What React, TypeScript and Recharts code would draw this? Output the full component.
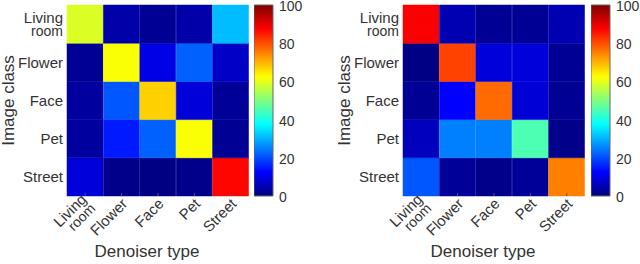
import React from 'react';
import { BarChart, Bar, Cell, XAxis, YAxis, ReferenceArea } from 'recharts';

const DENOISERS = ['Living room', 'Flower', 'Face', 'Pet', 'Street'];
const IMAGE_CLASSES = ['Living room', 'Flower', 'Face', 'Pet', 'Street'];
const COLORBAR_TICKS = [0, 20, 40, 60, 80, 100];

// rows = image class, columns = denoiser type (percent)
const leftMatrix = [
    [59, 4, 2, 4, 31],
    [2, 62, 10, 22, 7],
    [3, 21, 67, 9, 2.5],
    [3, 15, 22, 62, 2],
    [9, 1, 0.5, 1, 87],
];

const rightMatrix = [
    [88, 5, 2, 2, 5],
    [0.5, 81, 9, 9, 2],
    [2, 12.5, 77, 8.5, 2],
    [6, 25, 25, 45, 1],
    [21, 2.5, 1, 2.5, 75],
];

const FONT = '"Liberation Sans", Arial, Helvetica, sans-serif';
const TEXT = '#333';

// matlab jet colormap, 0..100
const jet = (v: number) => {
    const t = Math.max(0, Math.min(1, v / 100));
    const c = (x: number) => Math.round(255 * Math.max(0, Math.min(1, x)));
    const r = c(1.5 - Math.abs(4 * t - 3));
    const g = c(1.5 - Math.abs(4 * t - 2));
    const b = c(1.5 - Math.abs(4 * t - 1));
    return `rgb(${r},${g},${b})`;
};

const splitLabel = (s: string) => (s === 'Living room' ? ['Living', 'room'] : [s]);

const YTick = (props: any) => {
    const { x, y, payload } = props;
    const name = IMAGE_CLASSES[4 - Math.floor(payload.value)];
    const lines = splitLabel(name);
    if (lines.length > 1) {
        return (
            <text x={x} y={y} textAnchor="end" fill={TEXT} fontFamily={FONT}>
                <tspan x={x} dy={-1} fontSize={15}>{lines[0]}</tspan>
                <tspan x={x} dy={12.5} fontSize={14}>{lines[1]}</tspan>
            </text>
        );
    }
    return (
        <text x={x} y={y} dy="0.35em" textAnchor="end" fill={TEXT} fontSize={15} fontFamily={FONT}>
            {name}
        </text>
    );
};

const XTick = (props: any) => {
    const { x, y, payload } = props;
    const lines = splitLabel(payload.value);
    return (
        <g>
            <line x1={x} x2={x} y1={y} y2={y - 3} stroke="#555" strokeWidth={1} />
            <g transform={`translate(${x + 3},${y + 5}) rotate(-45)`}>
                {lines.length > 1 ? (
                    <text x={0} y={0} textAnchor="end" fill={TEXT} fontFamily={FONT}>
                        <tspan x={0} dy={-1} fontSize={15}>{lines[0]}</tspan>
                        <tspan x={0} dy={12.5} fontSize={14}>{lines[1]}</tspan>
                    </text>
                ) : (
                    <text x={0} y={0} dy="0.35em" textAnchor="end" fill={TEXT} fontSize={15} fontFamily={FONT}>
                        {lines[0]}
                    </text>
                )}
            </g>
        </g>
    );
};

const Heatmap: React.FC<{ matrix: number[][]; left: number }> = ({ matrix, left }) => {
    const data = DENOISERS.map(d => {
        const row: any = { denoiser: d };
        IMAGE_CLASSES.forEach(c => (row[c] = 1));
        return row;
    });
    const bottomUp = [...IMAGE_CLASSES].reverse();

    return (
        <div style={{ position: 'absolute', left, top: 0 }}>
            <BarChart
                width={265}
                height={264}
                data={data}
                margin={{ top: 5, right: 0, bottom: 0, left: 0 }}
                barCategoryGap={0}
                barGap={0}
                style={{ overflow: 'visible' }}
            >
                <XAxis
                    dataKey="denoiser"
                    height={68}
                    tickSize={0}
                    tickMargin={0}
                    axisLine={false}
                    interval={0}
                    tick={XTick}
                    label={{
                        content: (p: any) => {
                            const vb = p.viewBox;
                            return (
                                <text
                                    x={vb.x + vb.width / 2 - 11}
                                    y={vb.y + 61}
                                    textAnchor="middle"
                                    fill={TEXT}
                                    fontSize={17}
                                    fontFamily={FONT}
                                >
                                    Denoiser type
                                </text>
                            );
                        },
                    }}
                />
                <YAxis
                    type="number"
                    domain={[0, 5]}
                    ticks={[0.5, 1.5, 2.5, 3.5, 4.5]}
                    width={83}
                    tickSize={0}
                    tickMargin={4}
                    axisLine={false}
                    tick={YTick}
                    label={{
                        content: (p: any) => {
                            const vb = p.viewBox;
                            const cy = vb.y + vb.height / 2;
                            return (
                                <text
                                    transform={`translate(${vb.x + 30},${cy}) rotate(-90)`}
                                    textAnchor="middle"
                                    fill={TEXT}
                                    fontSize={17}
                                    fontFamily={FONT}
                                >
                                    Image class
                                </text>
                            );
                        },
                    }}
                />
                {bottomUp.map(cls => {
                    const r = IMAGE_CLASSES.indexOf(cls);
                    return (
                        <Bar key={cls} dataKey={cls} stackId="s" isAnimationActive={false}>
                            {DENOISERS.map((d, j) => (
                                <Cell key={d} fill={jet(matrix[r][j])} stroke={jet(matrix[r][j])} strokeWidth={0.5} />
                            ))}
                        </Bar>
                    );
                })}
                <ReferenceArea fill="none" stroke="#666" strokeWidth={1} ifOverflow="visible" />
            </BarChart>
        </div>
    );
};

const Colorbar: React.FC<{ left: number; id: string }> = ({ left, id }) => (
    <div style={{ position: 'absolute', left, top: 0 }}>
        <BarChart
            width={52}
            height={264}
            data={[{ v: 100 }]}
            margin={{ top: 5, right: 0, bottom: 68, left: 0 }}
            barCategoryGap={0}
            style={{ overflow: 'visible' }}
        >
            <defs>
                <linearGradient id={id} x1="0" y1="1" x2="0" y2="0">
                    <stop offset="0" stopColor="#00007f" />
                    <stop offset="0.125" stopColor="#0000ff" />
                    <stop offset="0.375" stopColor="#00ffff" />
                    <stop offset="0.625" stopColor="#ffff00" />
                    <stop offset="0.875" stopColor="#ff0000" />
                    <stop offset="1" stopColor="#7f0000" />
                </linearGradient>
            </defs>
            <XAxis hide />
            <YAxis
                orientation="right"
                type="number"
                domain={[0, 100]}
                ticks={COLORBAR_TICKS}
                width={33}
                tickSize={0}
                tickMargin={6}
                axisLine={false}
                tick={{ fill: TEXT, fontSize: 14, fontFamily: FONT, dy: 1 }}
                interval={0}
            />
            <Bar dataKey="v" fill={`url(#${id})`} stroke="#666" strokeWidth={1} isAnimationActive={false} />
        </BarChart>
    </div>
);

export default function App() {
    return (
        <div style={{ position: 'absolute', left: 0, top: 0, width: 640, height: 264, background: '#fff', overflow: 'hidden' }}>
            <Heatmap matrix={leftMatrix} left={-16} />
            <Colorbar left={254} id="jetL" />
            <Heatmap matrix={rightMatrix} left={320} />
            <Colorbar left={591} id="jetR" />
        </div>
    );
}
